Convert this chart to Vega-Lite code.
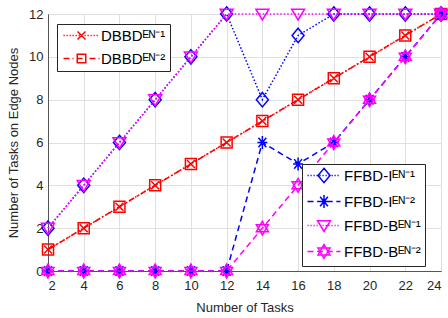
{
  "$schema": "https://vega.github.io/schema/vega-lite/v6.json",
  "width": 393,
  "height": 257,
  "autosize": {"type": "none"},
  "padding": {"left": 48, "top": 14, "right": 7, "bottom": 47},
  "background": "white",
  "config": {
    "font": "Liberation Sans",
    "view": {"stroke": "#555555", "strokeWidth": 1},
    "axis": {
      "grid": true,
      "gridColor": "#e0e0e0",
      "gridWidth": 1,
      "domainColor": "#555555",
      "domainWidth": 1,
      "ticks": false,
      "labelFont": "Liberation Sans",
      "labelFontSize": 13,
      "labelColor": "#262626",
      "titleFont": "Liberation Sans",
      "titleFontSize": 13,
      "titleFontWeight": "normal",
      "titleColor": "#262626"
    },
    "legend": {
      "labelFont": "Liberation Sans",
      "labelColor": "#000000",
      "labelFontSize": 15,
      "symbolStrokeWidth": 1.5
    }
  },
  "datasets": {
    "d": [
      {"x": 2, "y": 1, "k": "d1", "series": "DBBDᴱᴺ⁻¹"},
      {"x": 4, "y": 2, "k": "d1", "series": "DBBDᴱᴺ⁻¹"},
      {"x": 6, "y": 3, "k": "d1", "series": "DBBDᴱᴺ⁻¹"},
      {"x": 8, "y": 4, "k": "d1", "series": "DBBDᴱᴺ⁻¹"},
      {"x": 10, "y": 5, "k": "d1", "series": "DBBDᴱᴺ⁻¹"},
      {"x": 12, "y": 6, "k": "d1", "series": "DBBDᴱᴺ⁻¹"},
      {"x": 14, "y": 7, "k": "d1", "series": "DBBDᴱᴺ⁻¹"},
      {"x": 16, "y": 8, "k": "d1", "series": "DBBDᴱᴺ⁻¹"},
      {"x": 18, "y": 9, "k": "d1", "series": "DBBDᴱᴺ⁻¹"},
      {"x": 20, "y": 10, "k": "d1", "series": "DBBDᴱᴺ⁻¹"},
      {"x": 22, "y": 11, "k": "d1", "series": "DBBDᴱᴺ⁻¹"},
      {"x": 24, "y": 12, "k": "d1", "series": "DBBDᴱᴺ⁻¹"},
      {"x": 2, "y": 1, "k": "d2", "series": "DBBDᴱᴺ⁻²"},
      {"x": 4, "y": 2, "k": "d2", "series": "DBBDᴱᴺ⁻²"},
      {"x": 6, "y": 3, "k": "d2", "series": "DBBDᴱᴺ⁻²"},
      {"x": 8, "y": 4, "k": "d2", "series": "DBBDᴱᴺ⁻²"},
      {"x": 10, "y": 5, "k": "d2", "series": "DBBDᴱᴺ⁻²"},
      {"x": 12, "y": 6, "k": "d2", "series": "DBBDᴱᴺ⁻²"},
      {"x": 14, "y": 7, "k": "d2", "series": "DBBDᴱᴺ⁻²"},
      {"x": 16, "y": 8, "k": "d2", "series": "DBBDᴱᴺ⁻²"},
      {"x": 18, "y": 9, "k": "d2", "series": "DBBDᴱᴺ⁻²"},
      {"x": 20, "y": 10, "k": "d2", "series": "DBBDᴱᴺ⁻²"},
      {"x": 22, "y": 11, "k": "d2", "series": "DBBDᴱᴺ⁻²"},
      {"x": 24, "y": 12, "k": "d2", "series": "DBBDᴱᴺ⁻²"},
      {"x": 2, "y": 2, "k": "i1", "series": "FFBD-Iᴱᴺ⁻¹"},
      {"x": 4, "y": 4, "k": "i1", "series": "FFBD-Iᴱᴺ⁻¹"},
      {"x": 6, "y": 6, "k": "i1", "series": "FFBD-Iᴱᴺ⁻¹"},
      {"x": 8, "y": 8, "k": "i1", "series": "FFBD-Iᴱᴺ⁻¹"},
      {"x": 10, "y": 10, "k": "i1", "series": "FFBD-Iᴱᴺ⁻¹"},
      {"x": 12, "y": 12, "k": "i1", "series": "FFBD-Iᴱᴺ⁻¹"},
      {"x": 14, "y": 8, "k": "i1", "series": "FFBD-Iᴱᴺ⁻¹"},
      {"x": 16, "y": 11, "k": "i1", "series": "FFBD-Iᴱᴺ⁻¹"},
      {"x": 18, "y": 12, "k": "i1", "series": "FFBD-Iᴱᴺ⁻¹"},
      {"x": 20, "y": 12, "k": "i1", "series": "FFBD-Iᴱᴺ⁻¹"},
      {"x": 22, "y": 12, "k": "i1", "series": "FFBD-Iᴱᴺ⁻¹"},
      {"x": 24, "y": 12, "k": "i1", "series": "FFBD-Iᴱᴺ⁻¹"},
      {"x": 2, "y": 0, "k": "i2", "series": "FFBD-Iᴱᴺ⁻²"},
      {"x": 4, "y": 0, "k": "i2", "series": "FFBD-Iᴱᴺ⁻²"},
      {"x": 6, "y": 0, "k": "i2", "series": "FFBD-Iᴱᴺ⁻²"},
      {"x": 8, "y": 0, "k": "i2", "series": "FFBD-Iᴱᴺ⁻²"},
      {"x": 10, "y": 0, "k": "i2", "series": "FFBD-Iᴱᴺ⁻²"},
      {"x": 12, "y": 0, "k": "i2", "series": "FFBD-Iᴱᴺ⁻²"},
      {"x": 14, "y": 6, "k": "i2", "series": "FFBD-Iᴱᴺ⁻²"},
      {"x": 16, "y": 5, "k": "i2", "series": "FFBD-Iᴱᴺ⁻²"},
      {"x": 18, "y": 6, "k": "i2", "series": "FFBD-Iᴱᴺ⁻²"},
      {"x": 20, "y": 8, "k": "i2", "series": "FFBD-Iᴱᴺ⁻²"},
      {"x": 22, "y": 10, "k": "i2", "series": "FFBD-Iᴱᴺ⁻²"},
      {"x": 24, "y": 12, "k": "i2", "series": "FFBD-Iᴱᴺ⁻²"},
      {"x": 2, "y": 2, "k": "b1", "series": "FFBD-Bᴱᴺ⁻¹"},
      {"x": 4, "y": 4, "k": "b1", "series": "FFBD-Bᴱᴺ⁻¹"},
      {"x": 6, "y": 6, "k": "b1", "series": "FFBD-Bᴱᴺ⁻¹"},
      {"x": 8, "y": 8, "k": "b1", "series": "FFBD-Bᴱᴺ⁻¹"},
      {"x": 10, "y": 10, "k": "b1", "series": "FFBD-Bᴱᴺ⁻¹"},
      {"x": 12, "y": 12, "k": "b1", "series": "FFBD-Bᴱᴺ⁻¹"},
      {"x": 14, "y": 12, "k": "b1", "series": "FFBD-Bᴱᴺ⁻¹"},
      {"x": 16, "y": 12, "k": "b1", "series": "FFBD-Bᴱᴺ⁻¹"},
      {"x": 18, "y": 12, "k": "b1", "series": "FFBD-Bᴱᴺ⁻¹"},
      {"x": 20, "y": 12, "k": "b1", "series": "FFBD-Bᴱᴺ⁻¹"},
      {"x": 22, "y": 12, "k": "b1", "series": "FFBD-Bᴱᴺ⁻¹"},
      {"x": 24, "y": 12, "k": "b1", "series": "FFBD-Bᴱᴺ⁻¹"},
      {"x": 2, "y": 0, "k": "b2", "series": "FFBD-Bᴱᴺ⁻²"},
      {"x": 4, "y": 0, "k": "b2", "series": "FFBD-Bᴱᴺ⁻²"},
      {"x": 6, "y": 0, "k": "b2", "series": "FFBD-Bᴱᴺ⁻²"},
      {"x": 8, "y": 0, "k": "b2", "series": "FFBD-Bᴱᴺ⁻²"},
      {"x": 10, "y": 0, "k": "b2", "series": "FFBD-Bᴱᴺ⁻²"},
      {"x": 12, "y": 0, "k": "b2", "series": "FFBD-Bᴱᴺ⁻²"},
      {"x": 14, "y": 2, "k": "b2", "series": "FFBD-Bᴱᴺ⁻²"},
      {"x": 16, "y": 4, "k": "b2", "series": "FFBD-Bᴱᴺ⁻²"},
      {"x": 18, "y": 6, "k": "b2", "series": "FFBD-Bᴱᴺ⁻²"},
      {"x": 20, "y": 8, "k": "b2", "series": "FFBD-Bᴱᴺ⁻²"},
      {"x": 22, "y": 10, "k": "b2", "series": "FFBD-Bᴱᴺ⁻²"},
      {"x": 24, "y": 12, "k": "b2", "series": "FFBD-Bᴱᴺ⁻²"}
    ]
  },
  "data": {"name": "d"},
  "encoding": {
    "x": {
      "field": "x",
      "type": "quantitative",
      "scale": {"domain": [2, 24], "nice": false, "zero": false},
      "axis": {"values": [2, 4, 6, 8, 10, 12, 14, 16, 18, 20, 22, 24], "title": "Number of Tasks", "labelPadding": 8, "titlePadding": 9}
    },
    "y": {
      "field": "y",
      "type": "quantitative",
      "scale": {"domain": [0, 12], "nice": false},
      "axis": {"values": [0, 2, 4, 6, 8, 10, 12], "title": "Number of Tasks on Edge Nodes", "labelPadding": 5, "titlePadding": 8}
    }
  },
  "layer": [
    {
      "transform": [{"filter": "datum.k == 'd1' || datum.k == 'd2'"}],
      "layer": [
        {
          "transform": [{"filter": "datum.k == 'd1'"}],
          "mark": {"type": "line", "strokeWidth": 1.5, "color": "#ff0000", "strokeDash": [1.5, 2]},
          "encoding": {}
        },
        {
          "transform": [{"filter": "datum.k == 'd1'"}],
          "mark": {"type": "point", "filled": false, "strokeWidth": 1.5, "opacity": 1, "color": "#ff0000", "size": 64, "shape": "M-1,-1L1,1M-1,1L1,-1"},
          "encoding": {}
        },
        {
          "transform": [{"filter": "datum.k == 'd2'"}],
          "mark": {"type": "line", "strokeWidth": 1.5, "color": "#ff0000", "strokeDash": [6, 3, 1.5, 3]},
          "encoding": {}
        },
        {
          "transform": [{"filter": "datum.k == 'd2'"}],
          "mark": {"type": "point", "filled": false, "strokeWidth": 1.5, "opacity": 1, "color": "#ff0000", "size": 121, "shape": "M-1,-1L1,-1L1,1L-1,1Z"},
          "encoding": {}
        },
        {
          "mark": {"type": "point", "filled": false, "opacity": 0},
          "encoding": {
            "color": {
              "field": "series", "type": "nominal",
              "scale": {"domain": ["DBBDᴱᴺ⁻¹", "DBBDᴱᴺ⁻²"], "range": ["#ff0000", "#ff0000"]},
              "legend": {"title": null, "orient": "none", "legendX": 9, "legendY": 10, "strokeColor": "#262626", "fillColor": "#ffffff", "padding": 4, "symbolSize": 100, "labelOffset": 25, "rowPadding": 7, "symbolStrokeWidth": 1.5}
            },
            "shape": {
              "field": "series", "type": "nominal",
              "scale": {"domain": ["DBBDᴱᴺ⁻¹", "DBBDᴱᴺ⁻²"], "range": [
                "M-1,0L-0.75,0M-0.4,0L-0.15,0M0.2,0L0.45,0M0.8,0L1.05,0M1.4,0L1.65,0M2,0L2.25,0M2.6,0L2.85,0M3.2,0L3.45,0M3.8,0L4.05,0M4.4,0L4.65,0M5,0L5.25,0M5.6,0L5.85,0M1.8,-0.8L3.4,0.8M1.8,0.8L3.4,-0.8",
                "M-1,0L0.2,0M0.8,0L1,0M1.6,0L2.8,0M3.4,0L3.6,0M4.2,0L5.4,0M6,0L6.2,0M1.75,-0.85L3.45,-0.85L3.45,0.85L1.75,0.85Z"
              ]},
              "legend": {"title": null, "orient": "none", "legendX": 9, "legendY": 10, "strokeColor": "#262626", "fillColor": "#ffffff", "padding": 4, "symbolSize": 100, "labelOffset": 25, "rowPadding": 7, "symbolStrokeWidth": 1.5}
            }
          }
        }
      ]
    },
    {
      "transform": [{"filter": "datum.k == 'i1' || datum.k == 'i2' || datum.k == 'b1' || datum.k == 'b2'"}],
      "layer": [
        {
          "transform": [{"filter": "datum.k == 'i1'"}],
          "mark": {"type": "line", "strokeWidth": 1.5, "color": "#0000ff", "strokeDash": [1.5, 2]},
          "encoding": {}
        },
        {
          "transform": [{"filter": "datum.k == 'i1'"}],
          "mark": {"type": "point", "filled": false, "strokeWidth": 1.5, "opacity": 1, "color": "#0000ff", "size": 144, "shape": "M0,-1.2L1,0L0,1.2L-1,0Z"},
          "encoding": {}
        },
        {
          "transform": [{"filter": "datum.k == 'i2'"}],
          "mark": {"type": "line", "strokeWidth": 1.5, "color": "#0000ff", "strokeDash": [6, 4]},
          "encoding": {}
        },
        {
          "transform": [{"filter": "datum.k == 'i2'"}],
          "mark": {"type": "point", "filled": false, "strokeWidth": 1.5, "opacity": 1, "color": "#0000ff", "size": 144, "shape": "M-0.83,0L0.83,0M0,-1.08L0,1.08M-0.65,-0.8L0.65,0.8M-0.65,0.8L0.65,-0.8"},
          "encoding": {}
        },
        {
          "transform": [{"filter": "datum.k == 'b1'"}],
          "mark": {"type": "line", "strokeWidth": 1.5, "color": "#ff00ff", "strokeDash": [1.5, 2]},
          "encoding": {}
        },
        {
          "transform": [{"filter": "datum.k == 'b1'"}],
          "mark": {"type": "point", "filled": false, "strokeWidth": 1.5, "opacity": 1, "color": "#ff00ff", "size": 144, "shape": "M-1.08,-0.8L1.08,-0.8L0,1Z"},
          "encoding": {}
        },
        {
          "transform": [{"filter": "datum.k == 'b2'"}],
          "mark": {"type": "line", "strokeWidth": 1.5, "color": "#ff00ff", "strokeDash": [6, 4]},
          "encoding": {}
        },
        {
          "transform": [{"filter": "datum.k == 'b2'"}],
          "mark": {"type": "point", "filled": false, "strokeWidth": 1.5, "opacity": 1, "color": "#ff00ff", "size": 144, "shape": "M0,-1.15L1,0.58L-1,0.58ZM0,1.15L1,-0.58L-1,-0.58Z"},
          "encoding": {}
        },
        {
          "mark": {"type": "point", "filled": false, "opacity": 0},
          "encoding": {
            "color": {
              "field": "series", "type": "nominal",
              "scale": {"domain": ["FFBD-Iᴱᴺ⁻¹", "FFBD-Iᴱᴺ⁻²", "FFBD-Bᴱᴺ⁻¹", "FFBD-Bᴱᴺ⁻²"], "range": ["#0000ff", "#0000ff", "#ff00ff", "#ff00ff"]},
              "legend": {"title": null, "orient": "none", "legendX": 254, "legendY": 150, "strokeColor": "#262626", "fillColor": "#ffffff", "padding": 4, "symbolSize": 144, "labelOffset": 23, "rowPadding": 6, "symbolStrokeWidth": 1.5}
            },
            "shape": {
              "field": "series", "type": "nominal",
              "scale": {"domain": ["FFBD-Iᴱᴺ⁻¹", "FFBD-Iᴱᴺ⁻²", "FFBD-Bᴱᴺ⁻¹", "FFBD-Bᴱᴺ⁻²"], "range": [
                "M-1,0L-0.8,0M-0.5,0L-0.3,0M0,0L0.2,0M0.5,0L0.7,0M1,0L1.2,0M1.5,0L1.7,0M2,0L2.2,0M2.5,0L2.7,0M3,0L3.2,0M3.5,0L3.7,0M4,0L4.2,0M1.75,-1.2L2.75,0L1.75,1.2L0.75,0Z",
                "M-1,0L0,0M0.6,0L1.6,0M2.2,0L3.2,0M3.8,0L4.5,0M0.92,0L2.58,0M1.75,-1.08L1.75,1.08M1.1,-0.8L2.4,0.8M1.1,0.8L2.4,-0.8",
                "M-1,0L-0.8,0M-0.5,0L-0.3,0M0,0L0.2,0M0.5,0L0.7,0M1,0L1.2,0M1.5,0L1.7,0M2,0L2.2,0M2.5,0L2.7,0M3,0L3.2,0M3.5,0L3.7,0M4,0L4.2,0M0.67,-0.8L2.83,-0.8L1.75,1Z",
                "M-1,0L0,0M0.6,0L1.6,0M2.2,0L3.2,0M3.8,0L4.5,0M1.75,-1.15L2.75,0.58L0.75,0.58ZM1.75,1.15L2.75,-0.58L0.75,-0.58Z"
              ]},
              "legend": {"title": null, "orient": "none", "legendX": 254, "legendY": 150, "strokeColor": "#262626", "fillColor": "#ffffff", "padding": 4, "symbolSize": 144, "labelOffset": 23, "rowPadding": 6, "symbolStrokeWidth": 1.5}
            }
          }
        }
      ]
    }
  ],
  "resolve": {"scale": {"color": "independent", "shape": "independent"}}
}
